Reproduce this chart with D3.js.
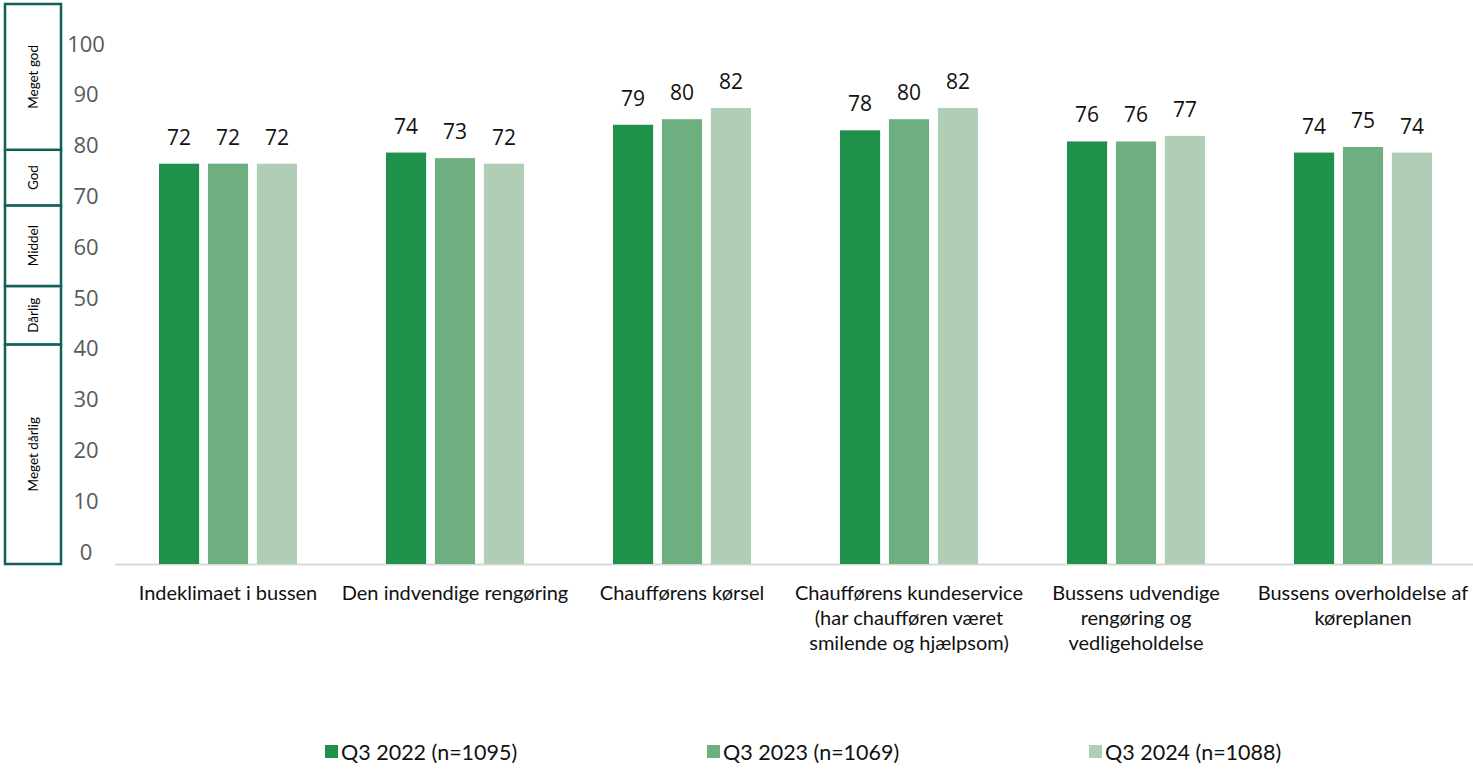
<!DOCTYPE html>
<html>
<head>
<meta charset="utf-8">
<script src="https://cdn.jsdelivr.net/npm/d3@7"></script>
<style>
  html, body { margin: 0; padding: 0; background: #fff; }
  svg { display: block; }
</style>
</head>
<body>
<svg id="chart" width="1473" height="769"></svg>
<script>
// Satisfaction questions (x categories); "\n" marks forced line breaks
const categories = [
  "Indeklimaet i bussen",
  "Den indvendige rengøring",
  "Chaufførens kørsel",
  "Chaufførens kundeservice\n(har chaufføren været\nsmilende og hjælpsom)",
  "Bussens udvendige\nrengøring og\nvedligeholdelse",
  "Bussens overholdelse af\nkøreplanen"
];

// Survey waves
const seriesNames = ["Q3 2022 (n=1095)", "Q3 2023 (n=1069)", "Q3 2024 (n=1088)"];

// Index scores per wave, one entry per category
const q3_2022 = [72, 74, 79, 78, 76, 74];
const q3_2023 = [72, 73, 80, 80, 76, 75];
const q3_2024 = [72, 72, 82, 82, 77, 74];

// Score scale ticks and rating bands
const tickValues = [0, 10, 20, 30, 40, 50, 60, 70, 80, 90, 100];
const bandLabels = ["Meget dårlig", "Dårlig", "Middel", "God", "Meget god"];
const bandLimits = [0, 39.5, 50, 64.5, 74.5, 100];

const seriesValues = [q3_2022, q3_2023, q3_2024];
const colors = ["#1f914b", "#6daf7e", "#b0cdb6"];

const svg = d3.select("#chart");

// Scales
const x0 = d3.scaleBand()
  .domain(categories)
  .range([114.5, 1476.5])
  .paddingInner(0)
  .paddingOuter(0);

const x1 = d3.scaleBand()
  .domain(d3.range(seriesNames.length))
  .range([0, 138])
  .paddingInner(0.18);

const y = d3.scaleLinear().domain([0, 100]).range([564, 8]);

// Tick label column sits on its own scale next to the rating bands
const yTicks = d3.scaleLinear().domain([0, 100]).range([552, 44]);

// Rating band boxes on the far left; the top box reaches the frame top
const frameTop = y(100) - 4;
const bands = bandLabels.map((label, i) => ({ label, lo: bandLimits[i], hi: bandLimits[i + 1] }));
const bandTop = d => d.hi >= 100 ? frameTop : y(d.hi);
const bandG = svg.append("g");
bandG.selectAll("rect")
  .data(bands)
  .join("rect")
  .attr("x", 5)
  .attr("width", 56)
  .attr("y", d => bandTop(d))
  .attr("height", d => y(d.lo) - bandTop(d))
  .attr("fill", "#fff")
  .attr("stroke", "#11605a")
  .attr("stroke-width", 2.5);
bandG.selectAll("text")
  .data(bands)
  .join("text")
  .attr("transform", d => `translate(33,${(y(d.lo) + bandTop(d)) / 2}) rotate(-90)`)
  .attr("text-anchor", "middle")
  .attr("dominant-baseline", "central")
  .attr("font-family", "Lato, 'Open Sans', sans-serif")
  .attr("font-size", 13.5)
  .attr("fill", "#000")
  .text(d => d.label);

// Score ticks
const tickAxis = d3.axisLeft(yTicks).tickValues(tickValues).tickSize(0).tickPadding(0);
const tickG = svg.append("g").attr("transform", "translate(86,0)").call(tickAxis);
tickG.select(".domain").remove();
tickG.selectAll("text")
  .attr("text-anchor", "middle")
  .attr("font-family", "'Open Sans', sans-serif")
  .attr("font-size", 22)
  .attr("fill", "#595959");

// Category baseline
svg.append("line")
  .attr("x1", 115).attr("x2", 1473)
  .attr("y1", y(0) + 0.5).attr("y2", y(0) + 0.5)
  .attr("stroke", "#d9d9d9")
  .attr("stroke-width", 2);

// Bars
const groups = svg.append("g").selectAll("g")
  .data(categories)
  .join("g")
  .attr("transform", d => `translate(${x0(d) + (x0.bandwidth() - 138) / 2},0)`);

groups.selectAll("rect")
  .data((d, ci) => seriesValues.map((vals, si) => ({ si, v: vals[ci] })))
  .join("rect")
  .attr("x", d => x1(d.si))
  .attr("width", x1.bandwidth())
  .attr("y", d => y(d.v))
  .attr("height", d => y(0) - y(d.v))
  .attr("fill", d => colors[d.si]);

// Value labels
groups.selectAll("text")
  .data((d, ci) => seriesValues.map((vals, si) => ({ si, v: vals[ci] })))
  .join("text")
  .attr("x", d => x1(d.si) + x1.bandwidth() / 2)
  .attr("y", d => y(d.v) - 19)
  .attr("text-anchor", "middle")
  .attr("font-family", "'Open Sans', sans-serif")
  .attr("font-size", 21)
  .attr("fill", "#111")
  .text(d => d.v);

// Category labels with manual line breaks
const catG = svg.append("g");
categories.forEach(c => {
  const t = catG.append("text")
    .attr("x", x0(c) + x0.bandwidth() / 2)
    .attr("y", 600)
    .attr("text-anchor", "middle")
    .attr("font-family", "Lato, sans-serif")
    .attr("font-size", 20)
    .attr("fill", "#111");
  c.split("\n").forEach((line, i) => {
    t.append("tspan")
      .attr("x", x0(c) + x0.bandwidth() / 2)
      .attr("dy", i === 0 ? 0 : 25)
      .text(line);
  });
});

// Legend
const legendX = [325, 707, 1089];
const legend = svg.append("g").selectAll("g")
  .data(seriesNames)
  .join("g")
  .attr("transform", (d, i) => `translate(${legendX[i]},745)`);
legend.append("rect")
  .attr("width", 13).attr("height", 13)
  .attr("fill", (d, i) => colors[i]);
legend.append("text")
  .attr("x", 16)
  .attr("y", 7)
  .attr("dominant-baseline", "central")
  .attr("font-family", "Lato, sans-serif")
  .attr("font-size", 21.5)
  .attr("fill", "#111")
  .text(d => d);
</script>
</body>
</html>
